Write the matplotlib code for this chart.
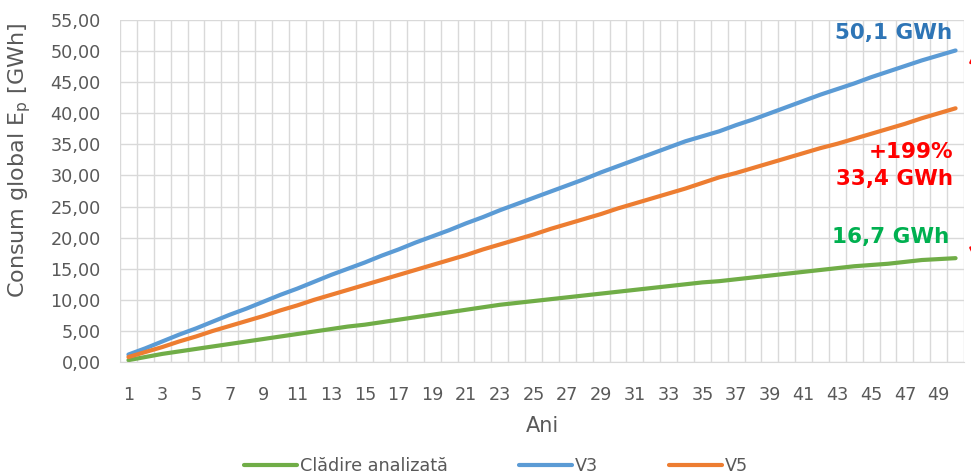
"""Cumulative global primary energy use over 50 years."""

import numpy as np
import matplotlib.pyplot as plt

plt.rcParams["font.family"] = ["DejaVu Sans"]

YEARS = list(range(1, 51))

CLADIRE = [
    0.3, 0.8, 1.3, 1.7, 2.1, 2.5, 2.9, 3.3, 3.7, 4.1,
    4.5, 4.9, 5.3, 5.7, 6.0, 6.4, 6.8, 7.2, 7.6, 8.0,
    8.4, 8.8, 9.2, 9.5, 9.8, 10.1, 10.4, 10.7, 11.0, 11.3,
    11.6, 11.9, 12.2, 12.5, 12.8, 13.0, 13.3, 13.6, 13.9, 14.2,
    14.5, 14.8, 15.1, 15.4, 15.6, 15.8, 16.1, 16.4, 16.55, 16.7,
]
V3 = [
    1.2, 2.2, 3.3, 4.4, 5.4, 6.5, 7.6, 8.6, 9.7, 10.8,
    11.8, 12.9, 14.0, 15.0, 16.0, 17.1, 18.1, 19.2, 20.2, 21.2,
    22.3, 23.3, 24.4, 25.4, 26.4, 27.4, 28.4, 29.4, 30.5, 31.5,
    32.5, 33.5, 34.5, 35.5, 36.3, 37.1, 38.1, 39.0, 40.0, 41.0,
    42.0, 43.0, 43.9, 44.8, 45.8, 46.7, 47.6, 48.5, 49.3, 50.1,
]
V5 = [
    0.8, 1.6, 2.4, 3.3, 4.1, 5.0, 5.8, 6.6, 7.4, 8.3,
    9.1, 10.0, 10.8, 11.6, 12.4, 13.2, 14.0, 14.8, 15.6, 16.4,
    17.2, 18.1, 18.9, 19.7, 20.5, 21.4, 22.2, 23.0, 23.8, 24.7,
    25.5, 26.3, 27.1, 27.9, 28.8, 29.7, 30.4, 31.2, 32.0, 32.8,
    33.6, 34.4, 35.1, 35.9, 36.7, 37.5, 38.3, 39.2, 40.0, 40.8,
]

LABEL_V3 = "50,1 GWh"
LABEL_PCT = "+199%"
LABEL_DIFF = "33,4 GWh"
LABEL_CLADIRE = "16,7 GWh"

GREY = "#595959"

fig = plt.figure(figsize=(9.71, 4.74), dpi=100)
ax = fig.add_axes([120 / 971, 112 / 474, 844 / 971, 342 / 474])

ax.plot(YEARS, CLADIRE, c="#70AD47", lw=3, label="Clădire analizată",
        solid_capstyle="round")
ax.plot(YEARS, V3, c="#5B9BD5", lw=3, label="V3", solid_capstyle="round")
ax.plot(YEARS, V5, c="#ED7D31", lw=3, label="V5", solid_capstyle="round")

ax.set_xlim(0.5, 50.5)
ax.set_ylim(0, 55)
ax.set_xticks(YEARS[::2])
ax.set_xticks(np.arange(0.5, 51, 1), minor=True)
ax.set_yticks(np.arange(0, 56, 5))
ax.set_yticklabels([f"{v:.2f}".replace(".", ",") for v in np.arange(0, 56, 5)])
ax.grid(which="minor", axis="x", c="#D9D9D9", lw=1)
ax.grid(which="major", axis="y", c="#D9D9D9", lw=1)
ax.set_axisbelow(True)
for side in ["top", "right", "left"]:
    ax.spines[side].set_visible(False)
ax.spines["bottom"].set_color("#D9D9D9")
ax.tick_params(which="both", length=0, labelsize=12.7, labelcolor=GREY)
ax.tick_params(axis="y", pad=14)
ax.tick_params(axis="x", pad=17)

ax.set_xlabel("Ani", fontsize=15, color=GREY, labelpad=9)
ax.set_ylabel("Consum global E$_\\mathregular{p}$ [GWh]", fontsize=16,
              color=GREY)
ax.yaxis.set_label_coords(-0.103, 0.59)

# value labels near the line ends
ax.text(49.8, 52.9, LABEL_V3, color="#2E75B6", fontsize=15.5, weight="bold",
        ha="right", va="center")
ax.text(49.85, 33.8, LABEL_PCT, color="#FF0000", fontsize=15.5, weight="bold",
        ha="right", va="center")
ax.text(49.85, 29.4, LABEL_DIFF, color="#FF0000", fontsize=15.5, weight="bold",
        ha="right", va="center")
ax.text(49.65, 20.1, LABEL_CLADIRE, color="#00B050", fontsize=15.5,
        weight="bold", ha="right", va="center")

# red double arrow just right of the plot, between the two end values
ax.annotate("", xy=(1.016, V3[-1] + 1.2), xycoords=("axes fraction", "data"),
            xytext=(1.016, CLADIRE[-1] - 1.5), textcoords=("axes fraction", "data"),
            arrowprops=dict(arrowstyle="<|-|>", color="#FF0000", lw=2,
                            mutation_scale=25),
            annotation_clip=False)

fig.legend(loc="center", bbox_to_anchor=(496 / 971, 8 / 474), ncol=3,
           frameon=False, fontsize=12.7, handlelength=3.0, handletextpad=0.2,
           columnspacing=4.0, labelcolor=GREY)

fig.savefig("out.png", dpi=100)
